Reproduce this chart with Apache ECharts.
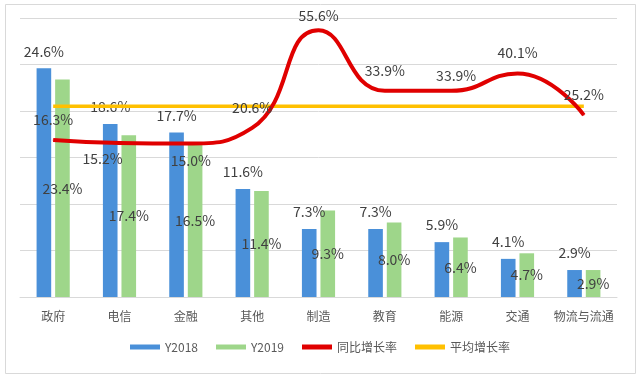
<!DOCTYPE html>
<html>
<head>
<meta charset="utf-8">
<script src="https://cdn.jsdelivr.net/npm/echarts@6/dist/echarts.min.js"></script>
<style>html,body{margin:0;padding:0;background:#fff}#c{width:640px;height:375px}</style>
</head>
<body>
<div id="c"></div>
<script>
var categories = ['政府','电信','金融','其他','制造','教育','能源','交通','物流与流通'];
var y2018 = [24.6, 18.6, 17.7, 11.6, 7.3, 7.3, 5.9, 4.1, 2.9];
var y2019 = [23.4, 17.4, 16.5, 11.4, 9.3, 8.0, 6.4, 4.7, 2.9];
var yoyGrowth = [16.3, 15.2, 15.0, 20.6, 55.6, 33.9, 33.9, 40.1, 25.2];
var avgGrowth = [28.4, 28.4, 28.4, 28.4, 28.4, 28.4, 28.4, 28.4, 28.4];

var FONT = '"Noto Sans CJK SC", "Microsoft YaHei", sans-serif';
var TXT = '#404040';
var pct = function (p) { return Number(p.value).toFixed(1) + '%'; };

// per-point label tweaks for the growth line
var lineLabelTweaks = {
  1: {position: 'bottom', distance: 8, offset: [-17, 0]},
  2: {position: 'bottom', distance: 10, offset: [5, 0]},
  4: {offset: [0, 6]},
  6: {offset: [5, 5]}
};
var yoyData = yoyGrowth.map(function (v, i) {
  var d = {value: v};
  if (lineLabelTweaks[i]) d.label = lineLabelTweaks[i];
  return d;
});

var chart = echarts.init(document.getElementById('c'), null, {renderer: 'canvas'});
chart.setOption({
  animation: false,
  backgroundColor: '#fff',
  textStyle: {fontFamily: FONT},
  graphic: [{
    type: 'rect', left: 3, top: 2, z: -10,
    shape: {width: 630, height: 369},
    style: {fill: 'none', stroke: '#d9d9d9', lineWidth: 1}
  }],
  grid: {left: 20, right: 23, top: 18, bottom: 78},
  legend: {
    bottom: 17, left: 'center',
    itemWidth: 30, itemHeight: 5, itemGap: 18,
    textStyle: {fontFamily: FONT, fontSize: 12, color: '#595959'},
    data: [
      {name: 'Y2018', icon: 'rect'},
      {name: 'Y2019', icon: 'rect'},
      {name: '同比增长率', icon: 'rect'},
      {name: '平均增长率', icon: 'rect'}
    ]
  },
  xAxis: {
    type: 'category', data: categories,
    axisLine: {lineStyle: {color: '#d9d9d9'}},
    axisTick: {show: false},
    axisLabel: {interval: 0, fontFamily: FONT, fontSize: 12, color: '#595959', margin: 13}
  },
  yAxis: [{
    type: 'value', min: 0, max: 30, interval: 5,
    axisLabel: {show: false}, axisLine: {show: false}, axisTick: {show: false},
    splitLine: {lineStyle: {color: '#d9d9d9'}}
  }, {
    type: 'value', min: -40, max: 60,
    axisLabel: {show: false}, axisLine: {show: false}, axisTick: {show: false},
    splitLine: {show: false}
  }],
  series: [{
    name: 'Y2018', type: 'bar', data: y2018,
    barGap: '27%', barCategoryGap: '50%',
    itemStyle: {color: '#4A90D9'},
    label: {show: true, position: 'top', distance: 10, formatter: pct,
            fontFamily: FONT, fontSize: 14, color: TXT}
  }, {
    name: 'Y2019', type: 'bar', data: y2019,
    itemStyle: {color: '#9ED68A'},
    label: {show: true, position: 'inside', formatter: pct,
            fontFamily: FONT, fontSize: 14, color: TXT}
  }, {
    name: '平均增长率', type: 'line', yAxisIndex: 1, data: avgGrowth,
    symbol: 'none', z: 3,
    lineStyle: {color: '#FFC000', width: 3.5},
    itemStyle: {color: '#FFC000'}
  }, {
    name: '同比增长率', type: 'line', yAxisIndex: 1, data: yoyData,
    smooth: 0.5, symbol: 'circle', symbolSize: 1, showSymbol: true, z: 4,
    lineStyle: {color: '#E00000', width: 4},
    itemStyle: {color: '#E00000'},
    label: {show: true, position: 'top', distance: 13, formatter: pct,
            fontFamily: FONT, fontSize: 14, color: TXT}
  }]
});
</script>
</body>
</html>
